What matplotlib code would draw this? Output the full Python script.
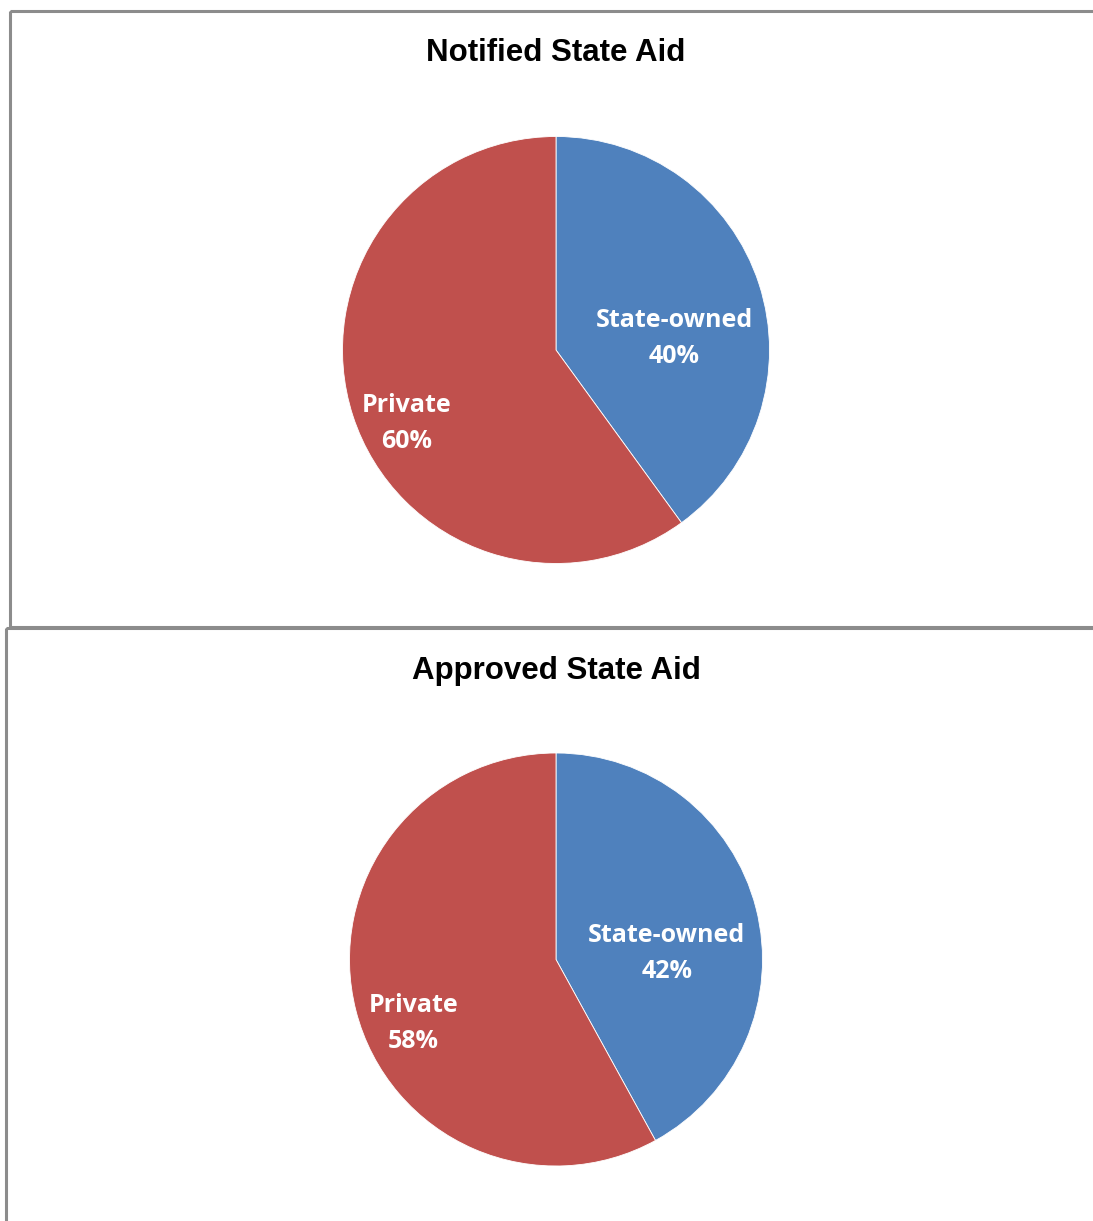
import matplotlib.pyplot as plt
from matplotlib.patches import Rectangle

# data
categories = ["State-owned", "Private"]
notified = [40, 60]
approved = [42, 58]
titles = ["Notified State Aid", "Approved State Aid"]
colors = ["#4F81BD", "#C0504D"]

W, H = 1093, 1221
fig = plt.figure(figsize=(W / 100, H / 100), dpi=100)


def px_axes(x0, y0, w, h):
    # pixel box (top-left origin) -> figure fraction
    return fig.add_axes([x0 / W, 1 - (y0 + h) / H, w / W, h / H])


# panel frames
frame = fig.add_axes([0, 0, 1, 1])
frame.set_xlim(0, W)
frame.set_ylim(H, 0)
frame.axis("off")
frame.add_patch(Rectangle((10, 11), 1100, 616, fill=False, edgecolor="#8c8c8c", lw=2.2))
frame.add_patch(Rectangle((6, 628), 1100, 620, fill=False, edgecolor="#8c8c8c", lw=2.2))

panels = [
    # center x, center y, radius, title y, label positions (axes data units)
    (556, 350, 213.5, 53, [(0.555, 0.055), (-0.70, -0.345)]),
    (556, 959.5, 206.5, 671, [(0.537, 0.03), (-0.69, -0.31)]),
]

for (cx, cy, r, ty, lpos), vals, title in zip(panels, [notified, approved], titles):
    ax = px_axes(cx - r, cy - r, 2 * r, 2 * r)
    ax.pie(vals, colors=colors, startangle=90, counterclock=False, radius=1,
           wedgeprops=dict(linewidth=0.6, edgecolor="white"))
    ax.set_xlim(-1, 1)
    ax.set_ylim(-1, 1)
    ax.set_aspect("equal")
    ax.axis("off")
    for (lx, ly), cat, v in zip(lpos, categories, vals):
        ax.text(lx, ly, f"{cat}\n{v}%", ha="center", va="center", color="white",
                fontsize=18, fontweight="bold", family="Open Sans", linespacing=1.6)
    frame.text(cx, ty, title, ha="center", va="center", fontsize=22.5,
               fontweight="bold", family="Liberation Sans")

fig.savefig("out.png", dpi=100)
